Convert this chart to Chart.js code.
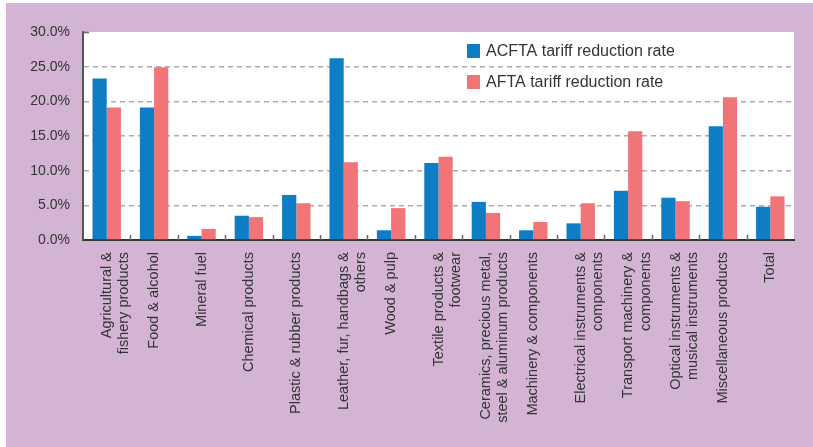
<!DOCTYPE html>
<html>
<head>
<meta charset="utf-8">
<script src="https://cdn.jsdelivr.net/npm/chart.js@4/dist/chart.umd.min.js"></script>
<style>
  html, body { margin: 0; padding: 0; background: #fff; }
  #wrap { width: 813px; height: 447px; }
</style>
</head>
<body>
<div id="wrap"><canvas id="myChart" width="813" height="447"></canvas></div>
<script>
// tariff reduction rates by product group (%)
const categories = [
  ['Agricultural &', 'fishery products'],
  'Food & alcohol',
  'Mineral fuel',
  'Chemical products',
  'Plastic & rubber products',
  ['Leather, fur, handbags &', 'others'],
  'Wood & pulp',
  ['Textile products &', 'footwear'],
  ['Ceramics, precious metal,', 'steel & aluminum products'],
  'Machinery & components',
  ['Electrical instruments &', 'components'],
  ['Transport machinery &', 'components'],
  ['Optical instruments &', 'musical instruments'],
  'Miscellaneous products',
  'Total'
];
const acftaRates = [23.3, 19.1, 0.6, 3.5, 6.5, 26.2, 1.4, 11.1, 5.5, 1.4, 2.4, 7.1, 6.1, 16.4, 4.8];
const aftaRates  = [19.1, 24.9, 1.6, 3.3, 5.3, 11.2, 4.6, 12.0, 3.9, 2.6, 5.3, 15.7, 5.6, 20.6, 6.3];
const seriesNames = ['ACFTA tariff reduction rate', 'AFTA tariff reduction rate'];
const yMax = 30;
const yStep = 5;

const BLUE = '#0e7dc4';
const RED = '#f17479';
const LILAC = '#d3b4d4';
const FONT = '"Liberation Sans", Arial, sans-serif';

// lilac frame, white plot area, inner tick stubs and the legend box
const framePlugin = {
  id: 'frame',
  beforeDraw(chart) {
    const { ctx, chartArea: a } = chart;
    ctx.save();
    ctx.fillStyle = '#fff';
    ctx.fillRect(0, 0, chart.width, chart.height);
    ctx.fillStyle = LILAC;
    ctx.fillRect(6, 3, chart.width - 6, chart.height - 3);
    ctx.fillStyle = '#fff';
    ctx.fillRect(a.left, a.top, a.right - a.left, a.bottom - a.top);
    ctx.restore();
  },
  afterDraw(chart) {
    const { ctx, chartArea: a } = chart;
    const xs = chart.scales.x, ys = chart.scales.y;
    ctx.save();
    ctx.strokeStyle = '#666';
    ctx.lineWidth = 1.5;
    ctx.beginPath();
    for (let i = 1; i < categories.length; i++) {
      const x = Math.round((xs.getPixelForValue(i - 1) + xs.getPixelForValue(i)) / 2) + 0.5;
      ctx.moveTo(x, a.bottom);
      ctx.lineTo(x, a.bottom - 5);
    }
    const yt = Math.round(ys.getPixelForValue(yMax)) + 0.5;
    ctx.moveTo(a.left, yt);
    ctx.lineTo(a.left + 6, yt);
    ctx.stroke();

    // legend
    ctx.font = '16px ' + FONT;
    ctx.textBaseline = 'middle';
    ctx.textAlign = 'left';
    chart.data.datasets.forEach((ds, i) => {
      const y = 51 + i * 31;
      ctx.fillStyle = ds.backgroundColor;
      ctx.fillRect(467, y - 7, 13, 14);
      ctx.fillStyle = '#333';
      ctx.fillText(ds.label, 486, y + 1);
    });
    ctx.restore();
  }
};

const ctx = document.getElementById('myChart').getContext('2d');
new Chart(ctx, {
  type: 'bar',
  data: {
    labels: categories,
    datasets: [
      { label: seriesNames[0], data: acftaRates, backgroundColor: BLUE },
      { label: seriesNames[1], data: aftaRates, backgroundColor: RED }
    ]
  },
  options: {
    responsive: false,
    animation: false,
    layout: { padding: { top: 32, right: 19, left: 0, bottom: 0 } },
    datasets: { bar: { categoryPercentage: 0.6, barPercentage: 1.0 } },
    plugins: { legend: { display: false }, tooltip: { enabled: false } },
    scales: {
      x: {
        afterFit(scale) { scale.height = 207; },
        grid: { drawOnChartArea: false, drawTicks: false },
        border: { color: '#333', width: 2 },
        ticks: {
          maxRotation: 90, minRotation: 90,
          padding: 12,
          color: '#333',
          font: { family: FONT, size: 14.5, lineHeight: 1.2 },
          autoSkip: false
        }
      },
      y: {
        min: 0, max: yMax,
        afterFit(scale) { scale.width = 83; },
        grid: {
          color: c => (c.tick && (c.tick.value === 0 || c.tick.value === yMax)) ? 'rgba(0,0,0,0)' : '#aaa',
          lineWidth: 1.5,
          drawTicks: false
        },
        border: { color: '#555', width: 2, dash: [5, 4] },
        ticks: {
          stepSize: yStep,
          padding: 13,
          color: '#333',
          font: { family: FONT, size: 14 },
          callback: v => v.toFixed(1) + '%'
        }
      }
    }
  },
  plugins: [framePlugin]
});
</script>
</body>
</html>
